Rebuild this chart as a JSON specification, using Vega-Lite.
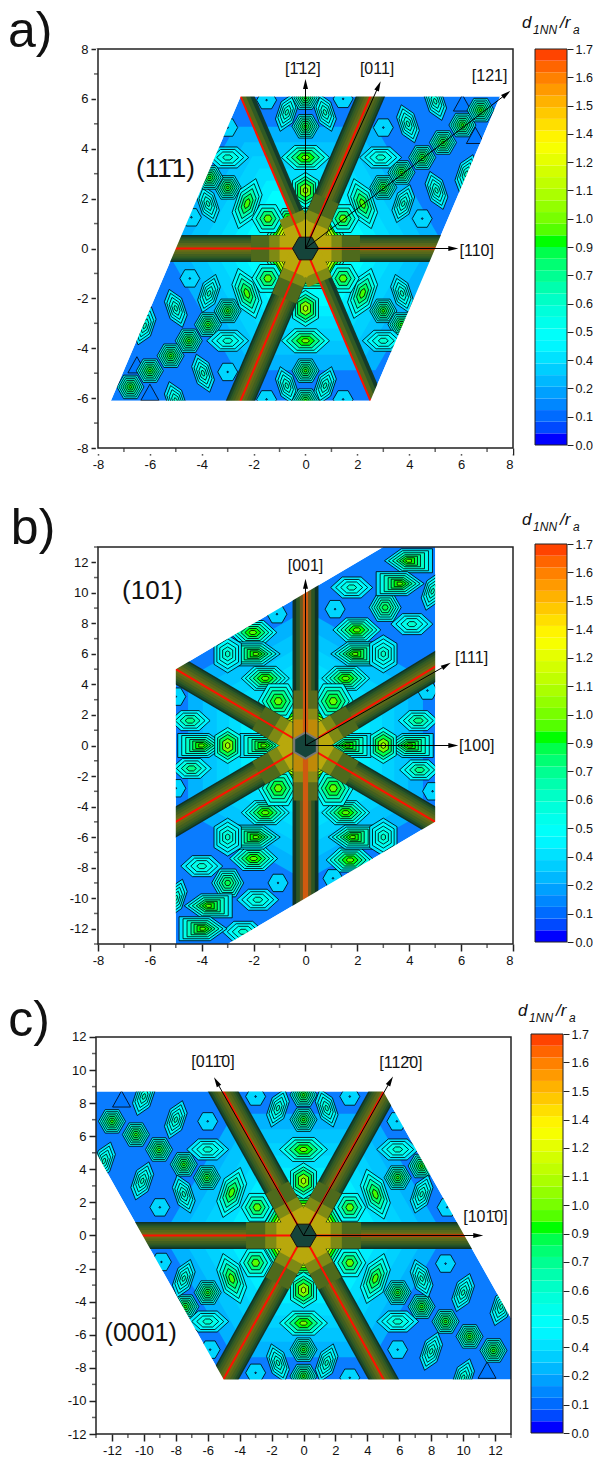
{"$schema":"https://vega.github.io/schema/vega-lite/v6.json","padding":{"left":7,"top":6,"right":0,"bottom":0},"background":"white","bounds":"flush","columns":2,"spacing":{"row":90,"column":18},
"config":{"view":{"stroke":null},"axis":{"grid":false,"domain":false,"tickColor":"#222","tickWidth":1.5,"tickSize":7,"labelFont":"Liberation Sans","labelFontSize":13,"labelColor":"#111","title":null,"zindex":1,"labelPadding":3},"text":{"font":"Liberation Sans","color":"#111"}},
"datasets":{
"profiles":[{"p":"H","v":[0.4,0.5,0.58,0.66,0.74,0.8,0.86],"a":[13.5,11.5,9.5,7.5,5.5,3.5,1.5]},{"p":"H2","v":[0.45,0.6,0.75,0.9],"a":[16,12,8,4]},{"p":"H3","v":[0.45,0.58,0.7,0.82,0.92],"a":[20,16,12,8,4]},{"p":"K","v":[0.38,0.48,0.56,0.64,0.72,0.8],"a":[16,13.5,11,8.5,6,3]},{"p":"L","v":[0.36,0.42,0.48,0.54,0.6],"a":[19,15,11,7,3]},{"p":"LB","v":[0.42,0.52,0.65,0.78,0.88],"a":[25,20,15,10,5]},{"p":"E","v":[0.36,0.42,0.5,0.58],"a":[21,16,11,5]},{"p":"E3","v":[0.4,0.5,0.62,0.72],"a":[20,15,10,5]},{"p":"EB","v":[0.45,0.58,0.72,0.85,0.95],"a":[24,19,14,9,4]},{"p":"V","v":[0.5,0.65,0.8,0.95,1.05],"a":[18,14,11,7,3]},{"p":"O","v":[0.32,0.1],"a":[10,0.8]},{"p":"W","v":[0.4,0.5,0.62,0.75,0.85,0.9],"a":[24,20,16,12,8,4]},{"p":"B","v":[0.35,0.5,0.6,0.7,0.8,0.85,0.9],"a":[24,20,16,12,9,6,3]},{"p":"T","v":[0.12],"a":[9]},{"p":"C","v":[0.55,0.7,0.85,1.0,1.1,1.2,1.27,1.35,1.45,1.55,1.65,1.7],"a":[46,43,40,37,34,31,29,27,25,23,21,19]}],
"ablobs":[{"x":0,"y":0,"s":"hex","p":"C"},{"x":6.05,"y":5.8,"s":"tri","p":"T"},{"x":6.55,"y":4.5,"s":"tri","p":"T"},{"x":-6.5,"y":-4.7,"s":"tri","p":"T"},{"x":-6,"y":-5.8,"s":"tri","p":"T"},{"x":-1.5,"y":5.95,"s":"hex","p":"O"},{"x":-3,"y":4.85,"s":"hex","p":"O"},{"x":-4.4,"y":1.25,"s":"hex","p":"O"},{"x":1.45,"y":6,"s":"hex","p":"O"},{"x":3,"y":4.85,"s":"hex","p":"O"},{"x":4.5,"y":1.2,"s":"hex","p":"O"},{"x":-4.46,"y":-1.2,"s":"hex","p":"O"},{"x":-3,"y":-4.95,"s":"hex","p":"O"},{"x":-1.5,"y":-6.05,"s":"hex","p":"O"},{"x":1.45,"y":-6.05,"s":"hex","p":"O"},{"x":-0.72,"y":5.46,"s":"ne","p":"L"},{"x":3.77,"y":1.8,"s":"ne","p":"L"},{"x":-3.72,"y":-1.8,"s":"ne","p":"L"},{"x":0.75,"y":-5.5,"s":"ne","p":"L"},{"x":6.2,"y":3,"s":"ne","p":"L"},{"x":-6.2,"y":-3.1,"s":"ne","p":"L"},{"x":0.75,"y":5.46,"s":"nw","p":"L"},{"x":3.95,"y":5,"s":"nw","p":"L"},{"x":5,"y":5.9,"s":"nw","p":"L"},{"x":5.05,"y":2.33,"s":"nw","p":"L"},{"x":-3.76,"y":1.8,"s":"nw","p":"L"},{"x":-5,"y":-2.4,"s":"nw","p":"L"},{"x":-3.95,"y":-5,"s":"nw","p":"L"},{"x":-0.72,"y":-5.5,"s":"nw","p":"L"},{"x":3.72,"y":-1.8,"s":"nw","p":"L"},{"x":-5,"y":-6.1,"s":"nw","p":"L"},{"x":-2.25,"y":1.8,"s":"ne","p":"LB"},{"x":2.2,"y":-1.8,"s":"ne","p":"LB"},{"x":2.2,"y":1.8,"s":"nw","p":"LB"},{"x":-2.26,"y":-1.8,"s":"nw","p":"LB"},{"x":-1.45,"y":1.2,"s":"hex","p":"H2"},{"x":1.45,"y":1.2,"s":"hex","p":"H2"},{"x":-1.45,"y":-1.2,"s":"hex","p":"H2"},{"x":1.45,"y":-1.2,"s":"hex","p":"H2"},{"x":-3,"y":2.45,"s":"hex","p":"H"},{"x":-3.7,"y":2.85,"s":"hex","p":"H"},{"x":3,"y":2.45,"s":"hex","p":"H"},{"x":3.7,"y":3.05,"s":"hex","p":"H"},{"x":4.5,"y":3.65,"s":"hex","p":"H"},{"x":5.3,"y":4.25,"s":"hex","p":"H"},{"x":6.05,"y":4.95,"s":"hex","p":"H"},{"x":6.75,"y":5.55,"s":"hex","p":"H"},{"x":-3,"y":-2.5,"s":"hex","p":"H"},{"x":-3.76,"y":-3.05,"s":"hex","p":"H"},{"x":-4.5,"y":-3.7,"s":"hex","p":"H"},{"x":-5.2,"y":-4.3,"s":"hex","p":"H"},{"x":-6,"y":-4.9,"s":"hex","p":"H"},{"x":-6.75,"y":-5.55,"s":"hex","p":"H"},{"x":0,"y":4.9,"s":"hex","p":"H"},{"x":0,"y":-4.9,"s":"hex","p":"H"},{"x":0,"y":6.05,"s":"hex","p":"H"},{"x":0,"y":-6.1,"s":"hex","p":"H"},{"x":3,"y":-2.5,"s":"hex","p":"H"},{"x":3.7,"y":-3.05,"s":"hex","p":"H"},{"x":-3,"y":3.65,"s":"eye","p":"E"},{"x":2.9,"y":3.65,"s":"eye","p":"E"},{"x":-3,"y":-3.7,"s":"eye","p":"E"},{"x":3,"y":-3.7,"s":"eye","p":"E"},{"x":0,"y":3.65,"s":"eye","p":"EB"},{"x":0,"y":-3.7,"s":"eye","p":"EB"},{"x":0,"y":2.33,"s":"vhex","p":"V"},{"x":0,"y":-2.4,"s":"vhex","p":"V"}],
"bblobs":[{"x":0,"y":0,"s":"phex","p":"C"},{"x":3.07,"y":9.04,"s":"hex","p":"K"},{"x":-3,"y":-9,"s":"hex","p":"K"},{"x":1.78,"y":10.35,"s":"eye","p":"E"},{"x":4.1,"y":7.95,"s":"eye","p":"E"},{"x":-4,"y":-7.9,"s":"eye","p":"E"},{"x":-1.84,"y":-10.1,"s":"eye","p":"E"},{"x":-2.4,"y":-12.2,"s":"eye","p":"E"},{"x":1.14,"y":8.93,"s":"hex","p":"O"},{"x":-1.06,"y":-9,"s":"hex","p":"O"},{"x":-1.1,"y":8.6,"s":"hex","p":"O"},{"x":1.06,"y":-8.7,"s":"hex","p":"O"},{"x":-5,"y":3.2,"s":"hex","p":"O"},{"x":4.7,"y":3.6,"s":"hex","p":"O"},{"x":-5,"y":-2.8,"s":"hex","p":"O"},{"x":4.9,"y":-3,"s":"hex","p":"O"},{"x":1.98,"y":7.57,"s":"eye","p":"W"},{"x":-2.03,"y":7.4,"s":"eye","p":"W"},{"x":-2,"y":-7.4,"s":"eye","p":"W"},{"x":1.72,"y":-7.5,"s":"eye","p":"W"},{"x":1.55,"y":4.4,"s":"eye","p":"W"},{"x":-1.55,"y":4.4,"s":"eye","p":"W"},{"x":1.55,"y":-4.4,"s":"eye","p":"W"},{"x":-1.55,"y":-4.4,"s":"eye","p":"W"},{"x":1.9,"y":6,"s":"xob","p":"B"},{"x":-1.9,"y":6,"s":"box","p":"B"},{"x":-1.9,"y":-6,"s":"box","p":"B"},{"x":1.8,"y":-6,"s":"xob","p":"B"},{"x":-4,"y":0,"s":"box","p":"B"},{"x":-1.6,"y":0,"s":"box","p":"B"},{"x":1.6,"y":0,"s":"xob","p":"B"},{"x":4,"y":0,"s":"xob","p":"B"},{"x":3.97,"y":12.1,"s":"xob","p":"B"},{"x":3.65,"y":10.6,"s":"box","p":"B"},{"x":-3.75,"y":-10.5,"s":"xob","p":"B"},{"x":-3.95,"y":-12,"s":"box","p":"B"},{"x":3,"y":6,"s":"vhex","p":"L"},{"x":-3,"y":6,"s":"vhex","p":"L"},{"x":-3,"y":-6,"s":"vhex","p":"L"},{"x":3,"y":-6,"s":"vhex","p":"L"},{"x":3,"y":0,"s":"vhex","p":"V"},{"x":-3,"y":0,"s":"vhex","p":"V"},{"x":-4.45,"y":1.63,"s":"eye","p":"E3"},{"x":4.35,"y":1.63,"s":"eye","p":"E3"},{"x":-4.4,"y":-1.5,"s":"eye","p":"E3"},{"x":4.4,"y":-1.6,"s":"eye","p":"E3"},{"x":1.07,"y":2.9,"s":"hex","p":"H3"},{"x":-1.05,"y":2.9,"s":"hex","p":"H3"},{"x":1.07,"y":-2.8,"s":"hex","p":"H3"},{"x":-1.05,"y":-2.8,"s":"hex","p":"H3"},{"x":4.9,"y":10.1,"s":"ne","p":"L"},{"x":-5,"y":-10,"s":"ne","p":"L"}],
"cblobs":[{"x":0,"y":0,"s":"hex","p":"C"},{"x":-11.4,"y":8.2,"s":"tri","p":"T"},{"x":11.5,"y":-8.2,"s":"tri","p":"T"},{"x":-12,"y":6.9,"s":"hex","p":"H"},{"x":-10.5,"y":6.1,"s":"hex","p":"H"},{"x":-9.05,"y":5.2,"s":"hex","p":"H"},{"x":-7.5,"y":4.3,"s":"hex","p":"H"},{"x":-6.05,"y":3.5,"s":"hex","p":"H"},{"x":0,"y":7,"s":"hex","p":"H"},{"x":0,"y":8.5,"s":"hex","p":"H"},{"x":5.9,"y":3.5,"s":"hex","p":"H"},{"x":7.4,"y":4.2,"s":"hex","p":"H"},{"x":-6,"y":-3.45,"s":"hex","p":"H"},{"x":-7.4,"y":-4.3,"s":"hex","p":"H"},{"x":0,"y":-6.9,"s":"hex","p":"H"},{"x":0,"y":-8.5,"s":"hex","p":"H"},{"x":5.9,"y":-3.45,"s":"hex","p":"H"},{"x":7.4,"y":-4.3,"s":"hex","p":"H"},{"x":8.9,"y":-5.2,"s":"hex","p":"H"},{"x":10.4,"y":-6.1,"s":"hex","p":"H"},{"x":11.9,"y":-6.95,"s":"hex","p":"H"},{"x":-8,"y":7,"s":"ne","p":"L"},{"x":-10.1,"y":3.3,"s":"ne","p":"L"},{"x":-7.5,"y":2.5,"s":"nw","p":"L"},{"x":-10,"y":8.4,"s":"ne","p":"L"},{"x":-12.5,"y":4.5,"s":"ne","p":"L"},{"x":-1.6,"y":7.7,"s":"ne","p":"L"},{"x":1.45,"y":7.7,"s":"nw","p":"L"},{"x":7.4,"y":2.5,"s":"ne","p":"L"},{"x":-7.5,"y":-2.6,"s":"ne","p":"L"},{"x":-1.6,"y":-7.7,"s":"nw","p":"L"},{"x":7.4,"y":-2.6,"s":"nw","p":"L"},{"x":10,"y":-3.45,"s":"ne","p":"L"},{"x":12.4,"y":-4.3,"s":"ne","p":"L"},{"x":8,"y":-7,"s":"ne","p":"L"},{"x":10,"y":-8.6,"s":"ne","p":"L"},{"x":1.45,"y":-7.7,"s":"ne","p":"L"},{"x":-6,"y":6.9,"s":"hex","p":"O"},{"x":-9,"y":1.7,"s":"hex","p":"O"},{"x":-3,"y":8.4,"s":"hex","p":"O"},{"x":2.9,"y":8.4,"s":"hex","p":"O"},{"x":5.85,"y":6.9,"s":"hex","p":"O"},{"x":9,"y":1.7,"s":"hex","p":"O"},{"x":-8.9,"y":-1.6,"s":"hex","p":"O"},{"x":-5.85,"y":-6.9,"s":"hex","p":"O"},{"x":-3,"y":-8.3,"s":"hex","p":"O"},{"x":8.9,"y":-1.7,"s":"hex","p":"O"},{"x":5.9,"y":-6.9,"s":"hex","p":"O"},{"x":2.9,"y":-8.6,"s":"hex","p":"O"},{"x":-6,"y":5.2,"s":"eye","p":"E"},{"x":5.9,"y":5.2,"s":"eye","p":"E"},{"x":-6,"y":-5.2,"s":"eye","p":"E"},{"x":5.9,"y":-5.2,"s":"eye","p":"E"},{"x":0,"y":5.2,"s":"eye","p":"EB"},{"x":0,"y":-5.3,"s":"eye","p":"EB"},{"x":0,"y":3.3,"s":"vhex","p":"V"},{"x":0,"y":-3.3,"s":"vhex","p":"V"},{"x":-4.5,"y":2.6,"s":"ne","p":"LB"},{"x":4.5,"y":2.5,"s":"nw","p":"LB"},{"x":-4.5,"y":-2.6,"s":"nw","p":"LB"},{"x":4.5,"y":-2.6,"s":"ne","p":"LB"},{"x":-2.9,"y":1.7,"s":"hex","p":"H2"},{"x":2.9,"y":1.7,"s":"hex","p":"H2"},{"x":-3,"y":-1.65,"s":"hex","p":"H2"},{"x":2.9,"y":-1.65,"s":"hex","p":"H2"}],
"aarms":[{"x":0,"y":0,"x2":5.6,"y2":0,"lane":["a_edge","a_two","b_mid","b_two","c_in","c_two","g_core"]},{"x":0,"y":0,"x2":-5.6,"y2":0,"lane":["a_edge","a_two","b_mid","b_two","c_in","c_two","g_core"]},{"x":0,"y":0,"x2":2.75,"y2":6.7,"lane":["a_edge","a_two","b_mid","b_two","c_in","c_two","g_core"]},{"x":0,"y":0,"x2":-2.75,"y2":-6.7,"lane":["a_edge","a_two","b_mid","b_two","c_in","c_two","g_core"]},{"x":0.23,"y":0.1,"x2":-2.52,"y2":6.8,"lane":["a_hedge"]},{"x":0.16,"y":0.07,"x2":-2.59,"y2":6.77,"lane":["b_hmid"]},{"x":0.09,"y":0.04,"x2":-2.66,"y2":6.74,"lane":["c_hin"]},{"x":0,"y":0,"x2":-2.75,"y2":6.7,"lane":["g_core"]},{"x":0.23,"y":0.1,"x2":2.98,"y2":-6.6,"lane":["a_hedge"]},{"x":0.16,"y":0.07,"x2":2.91,"y2":-6.63,"lane":["b_hmid"]},{"x":0.09,"y":0.04,"x2":2.84,"y2":-6.66,"lane":["c_hin"]},{"x":0,"y":0,"x2":2.75,"y2":-6.7,"lane":["g_core"]},{"x":0,"y":0,"x2":2.1,"y2":0,"lane":["d_warm0"]},{"x":0,"y":0,"x2":-2.1,"y2":0,"lane":["d_warm0"]},{"x":0,"y":0,"x2":0.82,"y2":2,"lane":["d_warm0"]},{"x":0,"y":0,"x2":-0.82,"y2":-2,"lane":["d_warm0"]},{"x":0,"y":0,"x2":1.4,"y2":0,"lane":["e_warm1"]},{"x":0,"y":0,"x2":-1.4,"y2":0,"lane":["e_warm1"]},{"x":0,"y":0,"x2":0.55,"y2":1.35,"lane":["e_warm1"]},{"x":0,"y":0,"x2":-0.55,"y2":1.35,"lane":["e_warm1"]},{"x":0,"y":0,"x2":0.55,"y2":-1.35,"lane":["e_warm1"]},{"x":0,"y":0,"x2":-0.55,"y2":-1.35,"lane":["e_warm1"]},{"x":0,"y":0,"x2":1,"y2":0,"lane":["f_warm2"]},{"x":0,"y":0,"x2":-1,"y2":0,"lane":["f_warm2"]},{"x":0,"y":0,"x2":0.4,"y2":0.97,"lane":["f_warm2"]},{"x":0,"y":0,"x2":-0.4,"y2":0.97,"lane":["f_warm2"]},{"x":0,"y":0,"x2":0.4,"y2":-0.97,"lane":["f_warm2"]},{"x":0,"y":0,"x2":-0.4,"y2":-0.97,"lane":["f_warm2"]}],
"barms":[{"x":0,"y":0,"x2":6,"y2":6.2,"lane":["a_edge","a_two","b_mid","b_two","c_in","c_two","g_core"]},{"x":0,"y":0,"x2":-6,"y2":6,"lane":["a_edge","a_two","b_mid","b_two","c_in","c_two","g_core"]},{"x":0,"y":0,"x2":6,"y2":-6,"lane":["a_edge","a_two","b_mid","b_two","c_in","c_two","g_core"]},{"x":0,"y":0,"x2":-6,"y2":-6,"lane":["a_edge","a_two","b_mid","b_two","c_in","c_two","g_core"]},{"x":0,"y":0,"x2":1.8,"y2":1.85,"lane":["d_warm0"]},{"x":0,"y":0,"x2":-1.8,"y2":1.8,"lane":["d_warm0"]},{"x":0,"y":0,"x2":1.8,"y2":-1.8,"lane":["d_warm0"]},{"x":0,"y":0,"x2":-1.8,"y2":-1.8,"lane":["d_warm0"]},{"x":0,"y":0,"x2":1.2,"y2":1.25,"lane":["e_warm1"]},{"x":0,"y":0,"x2":-1.2,"y2":1.2,"lane":["e_warm1"]},{"x":0,"y":0,"x2":1.2,"y2":-1.2,"lane":["e_warm1"]},{"x":0,"y":0,"x2":-1.2,"y2":-1.2,"lane":["e_warm1"]},{"x":0,"y":0,"x2":0.85,"y2":0.88,"lane":["f_warm2"]},{"x":0,"y":0,"x2":-0.85,"y2":0.85,"lane":["f_warm2"]},{"x":0,"y":0,"x2":0.85,"y2":-0.85,"lane":["f_warm2"]},{"x":0,"y":0,"x2":-0.85,"y2":-0.85,"lane":["f_warm2"]}],
"bvert":[{"l":"a","x":-0.5,"x2":0.5,"y":-11,"y2":11},{"l":"b","x":-0.36,"x2":0.36,"y":-11,"y2":11},{"l":"c","x":-0.22,"x2":0.22,"y":-11,"y2":11},{"l":"w0","x":-0.46,"x2":0.46,"y":-3.6,"y2":3.6},{"l":"w1","x":-0.46,"x2":0.46,"y":-2.4,"y2":2.4},{"l":"w2","x":-0.46,"x2":0.46,"y":-1.7,"y2":1.7},{"l":"v","x":-0.1,"x2":0.1,"y":-11,"y2":11}],
"carms":[{"x":0,"y":0,"x2":11.5,"y2":0,"lane":["a_edge","a_two","b_mid","b_two","c_in","c_two","g_core"]},{"x":0,"y":0,"x2":-11.5,"y2":0,"lane":["a_edge","a_two","b_mid","b_two","c_in","c_two","g_core"]},{"x":0,"y":0,"x2":5.6,"y2":9.7,"lane":["a_edge","a_two","b_mid","b_two","c_in","c_two","g_core"]},{"x":0,"y":0,"x2":-5.6,"y2":9.7,"lane":["a_edge","a_two","b_mid","b_two","c_in","c_two","g_core"]},{"x":0,"y":0,"x2":5.6,"y2":-9.7,"lane":["a_edge","a_two","b_mid","b_two","c_in","c_two","g_core"]},{"x":0,"y":0,"x2":-5.6,"y2":-9.7,"lane":["a_edge","a_two","b_mid","b_two","c_in","c_two","g_core"]},{"x":0,"y":0,"x2":3.6,"y2":0,"lane":["d_warm0"]},{"x":0,"y":0,"x2":-3.6,"y2":0,"lane":["d_warm0"]},{"x":0,"y":0,"x2":1.65,"y2":2.9,"lane":["d_warm0"]},{"x":0,"y":0,"x2":-1.65,"y2":2.9,"lane":["d_warm0"]},{"x":0,"y":0,"x2":1.65,"y2":-2.9,"lane":["d_warm0"]},{"x":0,"y":0,"x2":-1.65,"y2":-2.9,"lane":["d_warm0"]},{"x":0,"y":0,"x2":2.4,"y2":0,"lane":["e_warm1"]},{"x":0,"y":0,"x2":-2.4,"y2":0,"lane":["e_warm1"]},{"x":0,"y":0,"x2":1.1,"y2":1.95,"lane":["e_warm1"]},{"x":0,"y":0,"x2":-1.1,"y2":1.95,"lane":["e_warm1"]},{"x":0,"y":0,"x2":1.1,"y2":-1.95,"lane":["e_warm1"]},{"x":0,"y":0,"x2":-1.1,"y2":-1.95,"lane":["e_warm1"]},{"x":0,"y":0,"x2":1.7,"y2":0,"lane":["f_warm2"]},{"x":0,"y":0,"x2":-1.7,"y2":0,"lane":["f_warm2"]},{"x":0,"y":0,"x2":0.78,"y2":1.38,"lane":["f_warm2"]},{"x":0,"y":0,"x2":-0.78,"y2":1.38,"lane":["f_warm2"]},{"x":0,"y":0,"x2":0.78,"y2":-1.38,"lane":["f_warm2"]},{"x":0,"y":0,"x2":-0.78,"y2":-1.38,"lane":["f_warm2"]}],
"halo":[{"x":0,"y":0,"s":"hex","v":0.24,"a":140},{"x":0,"y":0,"s":"hex","v":0.28,"a":122},{"x":0,"y":0,"s":"hex","v":0.31,"a":106},{"x":0,"y":0,"s":"hex","v":0.34,"a":92},{"x":0,"y":0,"s":"hex","v":0.38,"a":78},{"x":0,"y":0,"s":"hex","v":0.42,"a":66}],
"phalo":[{"x":0,"y":0,"s":"phex","v":0.24,"a":135},{"x":0,"y":0,"s":"phex","v":0.28,"a":118},{"x":0,"y":0,"s":"phex","v":0.31,"a":102},{"x":0,"y":0,"s":"phex","v":0.34,"a":88},{"x":0,"y":0,"s":"phex","v":0.38,"a":74},{"x":0,"y":0,"s":"phex","v":0.42,"a":62}],
"cbar":[{"v":0,"h":0.05},{"v":0.05,"h":0.1},{"v":0.1,"h":0.15},{"v":0.15,"h":0.2},{"v":0.2,"h":0.25},{"v":0.25,"h":0.3},{"v":0.3,"h":0.35},{"v":0.35,"h":0.4},{"v":0.4,"h":0.45},{"v":0.45,"h":0.5},{"v":0.5,"h":0.55},{"v":0.55,"h":0.6},{"v":0.6,"h":0.65},{"v":0.65,"h":0.7},{"v":0.7,"h":0.75},{"v":0.75,"h":0.8},{"v":0.8,"h":0.85},{"v":0.85,"h":0.9},{"v":0.9,"h":0.95},{"v":0.95,"h":1},{"v":1,"h":1.05},{"v":1.05,"h":1.1},{"v":1.1,"h":1.15},{"v":1.15,"h":1.2},{"v":1.2,"h":1.25},{"v":1.25,"h":1.3},{"v":1.3,"h":1.35},{"v":1.35,"h":1.4},{"v":1.4,"h":1.45},{"v":1.45,"h":1.5},{"v":1.5,"h":1.55},{"v":1.55,"h":1.6},{"v":1.6,"h":1.65},{"v":1.65,"h":1.7}]
},
"concat":[
{"width":417,"height":405,"layer":[
{"data":{"values":[{"x":-7.5,"y":-6.1,"y2":-6.1},{"x":-2.5,"y":-6.1,"y2":6.1},{"x":2.5,"y":-6.1,"y2":6.1},{"x":7.5,"y":6.1,"y2":6.1}]},"mark":{"type":"area","orient":"vertical","color":"#0a7cff"},"encoding":{"x":{"field":"x","type":"quantitative","scale":{"domain":[-8.077,8]},"axis":{"title":null,"labelOverlap":false,"tickCount":50,"values":[-8,-6,-4,-2,0,2,4,6,8],"labelExpr":"''+datum.value","offset":-6}},"y":{"field":"y","type":"quantitative","scale":{"domain":[-8.24,8]},"axis":{"title":null,"labelOverlap":false,"tickCount":50,"values":[-8,-6,-4,-2,0,2,4,6,8],"labelExpr":"''+datum.value","offset":-2}},"y2":{"field":"y2"}}},
{"data":{"name":"halo"},"mark":{"type":"point","filled":true,"opacity":1,"clip":true},"encoding":{"x":{"field":"x","type":"quantitative","scale":{"domain":[-8.077,8]}},"y":{"field":"y","type":"quantitative","scale":{"domain":[-8.24,8]}},"fill":{"field":"v","type":"quantitative","legend":null,"scale":{"domain":[0,0.425,0.85,1.275,1.7],"range":["#0000ff","#00ffff","#00ff00","#ffff00","#ff0000"]}},"size":{"field":"a","type":"quantitative","legend":null,"scale":{"type":"pow","exponent":2,"domain":[0,30],"range":[0,3600]}},"shape":{"field":"s","type":"nominal","legend":null,"scale":{"domain":["hex","phex","eye","ne","nw","vhex","box","xob","tri"],"range":["M-1,0L-.5,-.87L.5,-.87L1,0L.5,.87L-.5,.87Z","M0,-1L.87,-.5L.87,.5L0,1L-.87,.5L-.87,-.5Z","M-1,0L-.45,-.5L.45,-.5L1,0L.45,.5L-.45,.5Z","M.35,-1L.6,-.35L.3,.55L-.35,1L-.6,.35L-.3,-.55Z","M-.35,-1L-.6,-.35L-.3,.55L.35,1L.6,.35L.3,-.55Z","M-.72,-.55L0,-1L.72,-.55L.72,.55L0,1L-.72,.55Z","M-1,-.5L.3,-.5L1,0L.3,.5L-1,.5Z","M1,-.5L-.3,-.5L-1,0L-.3,.5L1,.5Z","M0,-1L1,.8L-1,.8Z"]}}}},
{"data":{"name":"ablobs"},"transform":[{"lookup":"p","from":{"data":{"name":"profiles"},"key":"p","fields":["v","a"]}},{"flatten":["v","a"]}],"mark":{"type":"point","filled":true,"opacity":1,"stroke":"black","strokeWidth":0.8,"clip":true},"encoding":{"x":{"field":"x","type":"quantitative","scale":{"domain":[-8.077,8]}},"y":{"field":"y","type":"quantitative","scale":{"domain":[-8.24,8]}},"fill":{"field":"v","type":"quantitative","legend":null,"scale":{"domain":[0,0.425,0.85,1.275,1.7],"range":["#0000ff","#00ffff","#00ff00","#ffff00","#ff0000"]}},"size":{"field":"a","type":"quantitative","legend":null,"scale":{"type":"pow","exponent":2,"domain":[0,30],"range":[0,3600]}},"shape":{"field":"s","type":"nominal","legend":null,"scale":{"domain":["hex","phex","eye","ne","nw","vhex","box","xob","tri"],"range":["M-1,0L-.5,-.87L.5,-.87L1,0L.5,.87L-.5,.87Z","M0,-1L.87,-.5L.87,.5L0,1L-.87,.5L-.87,-.5Z","M-1,0L-.45,-.5L.45,-.5L1,0L.45,.5L-.45,.5Z","M.35,-1L.6,-.35L.3,.55L-.35,1L-.6,.35L-.3,-.55Z","M-.35,-1L-.6,-.35L-.3,.55L.35,1L.6,.35L.3,-.55Z","M-.72,-.55L0,-1L.72,-.55L.72,.55L0,1L-.72,.55Z","M-1,-.5L.3,-.5L1,0L.3,.5L-1,.5Z","M1,-.5L-.3,-.5L-1,0L-.3,.5L1,.5Z","M0,-1L1,.8L-1,.8Z"]}}}},
{"data":{"name":"aarms"},"transform":[{"flatten":["lane"]}],"mark":{"type":"rule","clip":true},"encoding":{"x":{"field":"x","type":"quantitative","scale":{"domain":[-8.077,8]}},"y":{"field":"y","type":"quantitative","scale":{"domain":[-8.24,8]}},"x2":{"field":"x2"},"y2":{"field":"y2"},"order":{"field":"lane"},"stroke":{"field":"lane","type":"nominal","legend":null,"scale":{"domain":["a_edge","a_two","b_mid","b_two","c_in","c_two","a_hedge","b_hmid","c_hin","d_warm0","e_warm1","f_warm2","g_core"],"range":["#0f3326","#1d4a28","#2f5a24","#435f1f","#56681a","#6e6a14","#123b2a","#2f5a24","#56681a","#4e6a1c","#7e8a14","#b8a80c","#ff1000"]}},"strokeWidth":{"field":"lane","type":"nominal","legend":null,"scale":{"type":"ordinal","domain":["a_edge","a_two","b_mid","b_two","c_in","c_two","a_hedge","b_hmid","c_hin","d_warm0","e_warm1","f_warm2","g_core"],"range":[27,24,20,16,11,6,13,9,5,26,26,26,2]}}}},
{"data":{"values":[{"m":"u","x":-8.08,"y":-8.25,"y2":8},{"m":"u","x":-7.5,"y":-6.1,"y2":8},{"m":"u","x":-2.5,"y":6.1,"y2":8},{"m":"u","x":8,"y":6.1,"y2":8},{"m":"l","x":-8.08,"y":-8.25,"y2":-6.1},{"m":"l","x":2.5,"y":-8.25,"y2":-6.1},{"m":"l","x":7.5,"y":-8.25,"y2":6.1},{"m":"l","x":8,"y":-8.25,"y2":8}]},"mark":{"type":"area","orient":"vertical","color":"white"},"encoding":{"detail":{"field":"m"},"x":{"field":"x","type":"quantitative","scale":{"domain":[-8.077,8]}},"y":{"field":"y","type":"quantitative","scale":{"domain":[-8.24,8]}},"y2":{"field":"y2"}}},
{"data":{"values":[{"x":0,"y":0}]},"mark":{"type":"point","filled":true,"opacity":1,"fill":"#15443a","stroke":"#111","strokeWidth":1,"size":676,"shape":"M-1,0L-.5,-.87L.5,-.87L1,0L.5,.87L-.5,.87Z"},"encoding":{"x":{"field":"x","type":"quantitative","scale":{"domain":[-8.077,8]}},"y":{"field":"y","type":"quantitative","scale":{"domain":[-8.24,8]}}}},
{"data":{"values":[{"x":0,"y":0,"x2":0,"y2":6.6},{"x":0,"y":0,"x2":2.82,"y2":6.52},{"x":0,"y":0,"x2":7.75,"y2":6.2},{"x":0,"y":0,"x2":5.7,"y2":0}]},"mark":{"type":"rule","color":"black","strokeWidth":1},"encoding":{"x":{"field":"x","type":"quantitative","scale":{"domain":[-8.077,8]}},"y":{"field":"y","type":"quantitative","scale":{"domain":[-8.24,8]}},"x2":{"field":"x2"},"y2":{"field":"y2"}}},
{"data":{"values":[{"x":0,"y":6.6,"r":0},{"x":2.82,"y":6.52,"r":24},{"x":7.75,"y":6.2,"r":52},{"x":5.7,"y":0,"r":90}]},"mark":{"type":"point","filled":true,"opacity":1,"color":"black","size":100,"shape":"M0,-1L.5,1L-.5,1Z"},"encoding":{"x":{"field":"x","type":"quantitative","scale":{"domain":[-8.077,8]}},"y":{"field":"y","type":"quantitative","scale":{"domain":[-8.24,8]}},"angle":{"field":"r","type":"quantitative","scale":{"domain":[0,360],"range":[0,360]}}}},
{"data":{"values":[{"t":"[1̄12]","x":-0.1,"y":7.2},{"t":"[011]","x":2.76,"y":7.2},{"t":"[121]","x":7.1,"y":6.9},{"t":"[110]","x":6.6,"y":-0.08}]},"mark":{"type":"text","fontSize":16},"encoding":{"text":{"field":"t"},"x":{"field":"x","type":"quantitative","scale":{"domain":[-8.077,8]}},"y":{"field":"y","type":"quantitative","scale":{"domain":[-8.24,8]}}}},
{"data":{"values":[{"t":"(11̄1)","x":-5.4,"y":3.2}]},"mark":{"type":"text","fontSize":26},"encoding":{"text":{"field":"t"},"x":{"field":"x","type":"quantitative","scale":{"domain":[-8.077,8]}},"y":{"field":"y","type":"quantitative","scale":{"domain":[-8.24,8]}}}},
{"data":{"values":[{"t":"a)","x":-11.47,"y":8.1}]},"mark":{"type":"text","fontSize":50,"align":"left","baseline":"alphabetic"},"encoding":{"text":{"field":"t"},"x":{"field":"x","type":"quantitative","scale":{"domain":[-8.077,8]}},"y":{"field":"y","type":"quantitative","scale":{"domain":[-8.24,8]}}}},
{"data":{"values":[-7,-5,-3,-1,1,3,5,7]},"mark":{"type":"tick","orient":"vertical","size":4,"thickness":1.5,"yOffset":2,"color":"#222"},"encoding":{"x":{"field":"data","type":"quantitative","scale":{"domain":[-8.077,8]}},"y":{"datum":-8,"type":"quantitative","scale":{"domain":[-8.24,8]}}}},
{"data":{"values":[-7,-5,-3,-1,1,3,5,7]},"mark":{"type":"tick","orient":"horizontal","size":4,"thickness":1.5,"xOffset":-2,"color":"#222"},"encoding":{"y":{"field":"data","type":"quantitative","scale":{"domain":[-8.24,8]}},"x":{"datum":-8,"type":"quantitative","scale":{"domain":[-8.077,8]}}}},
{"data":{"values":[{"a":1}]},"mark":{"type":"rect","fillOpacity":0,"stroke":"#222","strokeWidth":1.5},"encoding":{"x":{"datum":-8,"type":"quantitative","scale":{"domain":[-8.077,8]}},"x2":{"datum":8},"y":{"datum":-8,"type":"quantitative","scale":{"domain":[-8.24,8]}},"y2":{"datum":8}}}
]},
{"width":36,"height":396,"layer":[
{"data":{"name":"cbar"},"mark":{"type":"rect"},"encoding":{"x":{"datum":0,"type":"quantitative","scale":{"domain":[-0.125,1]},"axis":null},"x2":{"datum":1},"y":{"field":"v","type":"quantitative","scale":{"domain":[0,1.7]},"axis":{"title":null,"labelOverlap":false,"tickCount":50,"orient":"right","values":[0,0.1214,0.2429,0.3643,0.4857,0.6071,0.7286,0.85,0.9714,1.0929,1.2143,1.3357,1.4571,1.5786,1.7],"labelExpr":"['0.0','0.1','0.2','0.4','0.5','0.6','0.7','0.9','1.0','1.1','1.2','1.4','1.5','1.6','1.7'][round(datum.value/1.7*14)]","tickSize":6,"labelPadding":2,"labelFontSize":12.5,"tickWidth":1}},"y2":{"field":"h"},"fill":{"field":"v","type":"quantitative","legend":null,"scale":{"domain":[0,0.425,0.85,1.275,1.7],"range":["#0000ff","#00ffff","#00ff00","#ffff00","#ff0000"]}}}},
{"data":{"values":[{"a":1}]},"mark":{"type":"rect","fillOpacity":0,"stroke":"#222","strokeWidth":1},"encoding":{"x":{"datum":0,"type":"quantitative","scale":{"domain":[-0.125,1]},"axis":null},"x2":{"datum":1},"y":{"datum":0,"type":"quantitative","scale":{"domain":[0,1.7]}},"y2":{"datum":1.7}}},
{"data":{"values":[{"t":"d","x":-0.41,"y":1.79},{"t":"/r","x":0.78,"y":1.79}]},"mark":{"type":"text","fontSize":17,"fontStyle":"italic","align":"left","baseline":"alphabetic"},"encoding":{"text":{"field":"t"},"x":{"field":"x","type":"quantitative","scale":{"domain":[-0.125,1]},"axis":null},"y":{"field":"y","type":"quantitative","scale":{"domain":[0,1.7]}}}},
{"data":{"values":[{"t":"1NN","x":-0.06,"y":1.764},{"t":"a","x":1.19,"y":1.764}]},"mark":{"type":"text","fontSize":12,"fontStyle":"italic","align":"left","baseline":"alphabetic"},"encoding":{"text":{"field":"t"},"x":{"field":"x","type":"quantitative","scale":{"domain":[-0.125,1]},"axis":null},"y":{"field":"y","type":"quantitative","scale":{"domain":[0,1.7]}}}}
]},
{"width":417,"height":400,"layer":[
{"data":{"values":[{"x":-5,"y":-13,"y2":5},{"x":-3,"y":-13,"y2":7},{"x":3,"y":-7,"y2":13},{"x":5,"y":-5,"y2":13}]},"mark":{"type":"area","orient":"vertical","color":"#0a7cff"},"encoding":{"x":{"field":"x","type":"quantitative","scale":{"domain":[-8.077,8]},"axis":{"title":null,"labelOverlap":false,"tickCount":50,"values":[-8,-6,-4,-2,0,2,4,6,8],"labelExpr":"''+datum.value"}},"y":{"field":"y","type":"quantitative","scale":{"domain":[-13,13.197]},"axis":{"title":null,"labelOverlap":false,"tickCount":50,"values":[-12,-10,-8,-6,-4,-2,0,2,4,6,8,10,12],"labelExpr":"''+datum.value","offset":-2}},"y2":{"field":"y2"}}},
{"data":{"name":"phalo"},"mark":{"type":"point","filled":true,"opacity":1,"clip":true},"encoding":{"x":{"field":"x","type":"quantitative","scale":{"domain":[-8.077,8]}},"y":{"field":"y","type":"quantitative","scale":{"domain":[-13,13.197]}},"fill":{"field":"v","type":"quantitative","legend":null,"scale":{"domain":[0,0.425,0.85,1.275,1.7],"range":["#0000ff","#00ffff","#00ff00","#ffff00","#ff0000"]}},"size":{"field":"a","type":"quantitative","legend":null,"scale":{"type":"pow","exponent":2,"domain":[0,30],"range":[0,3600]}},"shape":{"field":"s","type":"nominal","legend":null,"scale":{"domain":["hex","phex","eye","ne","nw","vhex","box","xob","tri"],"range":["M-1,0L-.5,-.87L.5,-.87L1,0L.5,.87L-.5,.87Z","M0,-1L.87,-.5L.87,.5L0,1L-.87,.5L-.87,-.5Z","M-1,0L-.45,-.5L.45,-.5L1,0L.45,.5L-.45,.5Z","M.35,-1L.6,-.35L.3,.55L-.35,1L-.6,.35L-.3,-.55Z","M-.35,-1L-.6,-.35L-.3,.55L.35,1L.6,.35L.3,-.55Z","M-.72,-.55L0,-1L.72,-.55L.72,.55L0,1L-.72,.55Z","M-1,-.5L.3,-.5L1,0L.3,.5L-1,.5Z","M1,-.5L-.3,-.5L-1,0L-.3,.5L1,.5Z","M0,-1L1,.8L-1,.8Z"]}}}},
{"data":{"name":"bblobs"},"transform":[{"lookup":"p","from":{"data":{"name":"profiles"},"key":"p","fields":["v","a"]}},{"flatten":["v","a"]}],"mark":{"type":"point","filled":true,"opacity":1,"stroke":"black","strokeWidth":0.8,"clip":true},"encoding":{"x":{"field":"x","type":"quantitative","scale":{"domain":[-8.077,8]}},"y":{"field":"y","type":"quantitative","scale":{"domain":[-13,13.197]}},"fill":{"field":"v","type":"quantitative","legend":null,"scale":{"domain":[0,0.425,0.85,1.275,1.7],"range":["#0000ff","#00ffff","#00ff00","#ffff00","#ff0000"]}},"size":{"field":"a","type":"quantitative","legend":null,"scale":{"type":"pow","exponent":2,"domain":[0,30],"range":[0,3600]}},"shape":{"field":"s","type":"nominal","legend":null,"scale":{"domain":["hex","phex","eye","ne","nw","vhex","box","xob","tri"],"range":["M-1,0L-.5,-.87L.5,-.87L1,0L.5,.87L-.5,.87Z","M0,-1L.87,-.5L.87,.5L0,1L-.87,.5L-.87,-.5Z","M-1,0L-.45,-.5L.45,-.5L1,0L.45,.5L-.45,.5Z","M.35,-1L.6,-.35L.3,.55L-.35,1L-.6,.35L-.3,-.55Z","M-.35,-1L-.6,-.35L-.3,.55L.35,1L.6,.35L.3,-.55Z","M-.72,-.55L0,-1L.72,-.55L.72,.55L0,1L-.72,.55Z","M-1,-.5L.3,-.5L1,0L.3,.5L-1,.5Z","M1,-.5L-.3,-.5L-1,0L-.3,.5L1,.5Z","M0,-1L1,.8L-1,.8Z"]}}}},
{"data":{"name":"barms"},"transform":[{"flatten":["lane"]}],"mark":{"type":"rule","clip":true},"encoding":{"x":{"field":"x","type":"quantitative","scale":{"domain":[-8.077,8]}},"y":{"field":"y","type":"quantitative","scale":{"domain":[-13,13.197]}},"x2":{"field":"x2"},"y2":{"field":"y2"},"order":{"field":"lane"},"stroke":{"field":"lane","type":"nominal","legend":null,"scale":{"domain":["a_edge","a_two","b_mid","b_two","c_in","c_two","d_warm0","e_warm1","f_warm2","g_core"],"range":["#0f3326","#1d4a28","#2c5524","#44541f","#665a20","#7a5a20","#5a6a1c","#8a8a14","#c08a08","#8a8a8a"]}},"strokeWidth":{"field":"lane","type":"nominal","legend":null,"scale":{"type":"ordinal","domain":["a_edge","a_two","b_mid","b_two","c_in","c_two","d_warm0","e_warm1","f_warm2","g_core"],"range":[26,23,19,15,10,6,24,24,24,2]}}}},
{"data":{"name":"bvert"},"mark":{"type":"rect","clip":true},"encoding":{"x":{"field":"x","type":"quantitative","scale":{"domain":[-8.077,8]}},"x2":{"field":"x2"},"y":{"field":"y","type":"quantitative","scale":{"domain":[-13,13.197]}},"y2":{"field":"y2"},"color":{"field":"l","type":"nominal","legend":null,"scale":{"domain":["a","b","c","w0","w1","w2","v"],"range":["#0f3326","#2c5524","#665a20","#5a6a1c","#8a8a14","#c08a08","#d05a10"]}}}},
{"data":{"values":[{"m":"u","x":-8.08,"y":-13,"y2":13.2},{"m":"u","x":-5.001,"y":-13,"y2":13.2},{"m":"u","x":-5,"y":5,"y2":13.2},{"m":"u","x":3,"y":13,"y2":13.2},{"m":"u","x":8,"y":13,"y2":13.2},{"m":"l","x":-3,"y":-13,"y2":-13},{"m":"l","x":5,"y":-13,"y2":-5},{"m":"l","x":5.001,"y":-13,"y2":13.2},{"m":"l","x":8,"y":-13,"y2":13.2}]},"mark":{"type":"area","orient":"vertical","color":"white"},"encoding":{"detail":{"field":"m"},"x":{"field":"x","type":"quantitative","scale":{"domain":[-8.077,8]}},"y":{"field":"y","type":"quantitative","scale":{"domain":[-13,13.197]}},"y2":{"field":"y2"}}},
{"data":{"values":[{"x":0,"y":0}]},"mark":{"type":"point","filled":true,"opacity":1,"fill":"#15443a","stroke":"#777","strokeWidth":2,"size":676,"shape":"M0,-1L.87,-.5L.87,.5L0,1L-.87,.5L-.87,-.5Z"},"encoding":{"x":{"field":"x","type":"quantitative","scale":{"domain":[-8.077,8]}},"y":{"field":"y","type":"quantitative","scale":{"domain":[-13,13.197]}}}},
{"data":{"values":[{"x":0,"y":0,"x2":0,"y2":10.6},{"x":0,"y":0,"x2":5.43,"y2":5.25},{"x":0,"y":0,"x2":5.7,"y2":0}]},"mark":{"type":"rule","color":"black","strokeWidth":1},"encoding":{"x":{"field":"x","type":"quantitative","scale":{"domain":[-8.077,8]}},"y":{"field":"y","type":"quantitative","scale":{"domain":[-13,13.197]}},"x2":{"field":"x2"},"y2":{"field":"y2"}}},
{"data":{"values":[{"x":0,"y":10.6,"r":0},{"x":5.43,"y":5.25,"r":60},{"x":5.7,"y":0,"r":90}]},"mark":{"type":"point","filled":true,"opacity":1,"color":"black","size":100,"shape":"M0,-1L.5,1L-.5,1Z"},"encoding":{"x":{"field":"x","type":"quantitative","scale":{"domain":[-8.077,8]}},"y":{"field":"y","type":"quantitative","scale":{"domain":[-13,13.197]}},"angle":{"field":"r","type":"quantitative","scale":{"domain":[0,360],"range":[0,360]}}}},
{"data":{"values":[{"t":"[001]","x":0,"y":11.75},{"t":"[111]","x":6.4,"y":5.75},{"t":"[100]","x":6.6,"y":0}]},"mark":{"type":"text","fontSize":16},"encoding":{"text":{"field":"t"},"x":{"field":"x","type":"quantitative","scale":{"domain":[-8.077,8]}},"y":{"field":"y","type":"quantitative","scale":{"domain":[-13,13.197]}}}},
{"data":{"values":[{"t":"(101)","x":-5.9,"y":10.1}]},"mark":{"type":"text","fontSize":26},"encoding":{"text":{"field":"t"},"x":{"field":"x","type":"quantitative","scale":{"domain":[-8.077,8]}},"y":{"field":"y","type":"quantitative","scale":{"domain":[-13,13.197]}}}},
{"data":{"values":[{"t":"b)","x":-11.36,"y":13.2}]},"mark":{"type":"text","fontSize":50,"align":"left","baseline":"alphabetic"},"encoding":{"text":{"field":"t"},"x":{"field":"x","type":"quantitative","scale":{"domain":[-8.077,8]}},"y":{"field":"y","type":"quantitative","scale":{"domain":[-13,13.197]}}}},
{"data":{"values":[-7,-5,-3,-1,1,3,5,7]},"mark":{"type":"tick","orient":"vertical","size":4,"thickness":1.5,"yOffset":2,"color":"#222"},"encoding":{"x":{"field":"data","type":"quantitative","scale":{"domain":[-8.077,8]}},"y":{"datum":-13,"type":"quantitative","scale":{"domain":[-13,13.197]}}}},
{"data":{"values":[-13,-11,-9,-7,-5,-3,-1,1,3,5,7,9,11,13]},"mark":{"type":"tick","orient":"horizontal","size":4,"thickness":1.5,"xOffset":-2,"color":"#222"},"encoding":{"y":{"field":"data","type":"quantitative","scale":{"domain":[-13,13.197]}},"x":{"datum":-8,"type":"quantitative","scale":{"domain":[-8.077,8]}}}},
{"data":{"values":[{"a":1}]},"mark":{"type":"rect","fillOpacity":0,"stroke":"#222","strokeWidth":1.5},"encoding":{"x":{"datum":-8,"type":"quantitative","scale":{"domain":[-8.077,8]}},"x2":{"datum":8},"y":{"datum":-13,"type":"quantitative","scale":{"domain":[-13,13.197]}},"y2":{"datum":13}}}
]},
{"width":36,"height":398,"layer":[
{"data":{"name":"cbar"},"mark":{"type":"rect"},"encoding":{"x":{"datum":0,"type":"quantitative","scale":{"domain":[-0.125,1]},"axis":null},"x2":{"datum":1},"y":{"field":"v","type":"quantitative","scale":{"domain":[0,1.7]},"axis":{"title":null,"labelOverlap":false,"tickCount":50,"orient":"right","values":[0,0.1214,0.2429,0.3643,0.4857,0.6071,0.7286,0.85,0.9714,1.0929,1.2143,1.3357,1.4571,1.5786,1.7],"labelExpr":"['0.0','0.1','0.2','0.4','0.5','0.6','0.7','0.9','1.0','1.1','1.2','1.4','1.5','1.6','1.7'][round(datum.value/1.7*14)]","tickSize":6,"labelPadding":2,"labelFontSize":12.5,"tickWidth":1}},"y2":{"field":"h"},"fill":{"field":"v","type":"quantitative","legend":null,"scale":{"domain":[0,0.425,0.85,1.275,1.7],"range":["#0000ff","#00ffff","#00ff00","#ffff00","#ff0000"]}}}},
{"data":{"values":[{"a":1}]},"mark":{"type":"rect","fillOpacity":0,"stroke":"#222","strokeWidth":1},"encoding":{"x":{"datum":0,"type":"quantitative","scale":{"domain":[-0.125,1]},"axis":null},"x2":{"datum":1},"y":{"datum":0,"type":"quantitative","scale":{"domain":[0,1.7]}},"y2":{"datum":1.7}}},
{"data":{"values":[{"t":"d","x":-0.41,"y":1.78},{"t":"/r","x":0.78,"y":1.78}]},"mark":{"type":"text","fontSize":17,"fontStyle":"italic","align":"left","baseline":"alphabetic"},"encoding":{"text":{"field":"t"},"x":{"field":"x","type":"quantitative","scale":{"domain":[-0.125,1]},"axis":null},"y":{"field":"y","type":"quantitative","scale":{"domain":[0,1.7]}}}},
{"data":{"values":[{"t":"1NN","x":-0.06,"y":1.755},{"t":"a","x":1.19,"y":1.755}]},"mark":{"type":"text","fontSize":12,"fontStyle":"italic","align":"left","baseline":"alphabetic"},"encoding":{"text":{"field":"t"},"x":{"field":"x","type":"quantitative","scale":{"domain":[-0.125,1]},"axis":null},"y":{"field":"y","type":"quantitative","scale":{"domain":[0,1.7]}}}}
]},
{"width":415,"height":400,"layer":[
{"data":{"values":[{"x":-13,"y":5,"y2":8.7},{"x":-5,"y":-8.7,"y2":8.7},{"x":5,"y":-8.7,"y2":8.7},{"x":13,"y":-8.7,"y2":-5}]},"mark":{"type":"area","orient":"vertical","color":"#0a7cff"},"encoding":{"x":{"field":"x","type":"quantitative","scale":{"domain":[-13,13]},"axis":{"title":null,"labelOverlap":false,"tickCount":50,"values":[-12,-10,-8,-6,-4,-2,0,2,4,6,8,10,12],"labelExpr":"''+datum.value"}},"y":{"field":"y","type":"quantitative","scale":{"domain":[-12,12.18]},"axis":{"title":null,"labelOverlap":false,"tickCount":50,"values":[-12,-10,-8,-6,-4,-2,0,2,4,6,8,10,12],"labelExpr":"''+datum.value"}},"y2":{"field":"y2"}}},
{"data":{"name":"halo"},"mark":{"type":"point","filled":true,"opacity":1,"clip":true},"encoding":{"x":{"field":"x","type":"quantitative","scale":{"domain":[-13,13]}},"y":{"field":"y","type":"quantitative","scale":{"domain":[-12,12.18]}},"fill":{"field":"v","type":"quantitative","legend":null,"scale":{"domain":[0,0.425,0.85,1.275,1.7],"range":["#0000ff","#00ffff","#00ff00","#ffff00","#ff0000"]}},"size":{"field":"a","type":"quantitative","legend":null,"scale":{"type":"pow","exponent":2,"domain":[0,30],"range":[0,3600]}},"shape":{"field":"s","type":"nominal","legend":null,"scale":{"domain":["hex","phex","eye","ne","nw","vhex","box","xob","tri"],"range":["M-1,0L-.5,-.87L.5,-.87L1,0L.5,.87L-.5,.87Z","M0,-1L.87,-.5L.87,.5L0,1L-.87,.5L-.87,-.5Z","M-1,0L-.45,-.5L.45,-.5L1,0L.45,.5L-.45,.5Z","M.35,-1L.6,-.35L.3,.55L-.35,1L-.6,.35L-.3,-.55Z","M-.35,-1L-.6,-.35L-.3,.55L.35,1L.6,.35L.3,-.55Z","M-.72,-.55L0,-1L.72,-.55L.72,.55L0,1L-.72,.55Z","M-1,-.5L.3,-.5L1,0L.3,.5L-1,.5Z","M1,-.5L-.3,-.5L-1,0L-.3,.5L1,.5Z","M0,-1L1,.8L-1,.8Z"]}}}},
{"data":{"name":"cblobs"},"transform":[{"lookup":"p","from":{"data":{"name":"profiles"},"key":"p","fields":["v","a"]}},{"flatten":["v","a"]}],"mark":{"type":"point","filled":true,"opacity":1,"stroke":"black","strokeWidth":0.8,"clip":true},"encoding":{"x":{"field":"x","type":"quantitative","scale":{"domain":[-13,13]}},"y":{"field":"y","type":"quantitative","scale":{"domain":[-12,12.18]}},"fill":{"field":"v","type":"quantitative","legend":null,"scale":{"domain":[0,0.425,0.85,1.275,1.7],"range":["#0000ff","#00ffff","#00ff00","#ffff00","#ff0000"]}},"size":{"field":"a","type":"quantitative","legend":null,"scale":{"type":"pow","exponent":2,"domain":[0,30],"range":[0,3600]}},"shape":{"field":"s","type":"nominal","legend":null,"scale":{"domain":["hex","phex","eye","ne","nw","vhex","box","xob","tri"],"range":["M-1,0L-.5,-.87L.5,-.87L1,0L.5,.87L-.5,.87Z","M0,-1L.87,-.5L.87,.5L0,1L-.87,.5L-.87,-.5Z","M-1,0L-.45,-.5L.45,-.5L1,0L.45,.5L-.45,.5Z","M.35,-1L.6,-.35L.3,.55L-.35,1L-.6,.35L-.3,-.55Z","M-.35,-1L-.6,-.35L-.3,.55L.35,1L.6,.35L.3,-.55Z","M-.72,-.55L0,-1L.72,-.55L.72,.55L0,1L-.72,.55Z","M-1,-.5L.3,-.5L1,0L.3,.5L-1,.5Z","M1,-.5L-.3,-.5L-1,0L-.3,.5L1,.5Z","M0,-1L1,.8L-1,.8Z"]}}}},
{"data":{"name":"carms"},"transform":[{"flatten":["lane"]}],"mark":{"type":"rule","clip":true},"encoding":{"x":{"field":"x","type":"quantitative","scale":{"domain":[-13,13]}},"y":{"field":"y","type":"quantitative","scale":{"domain":[-12,12.18]}},"x2":{"field":"x2"},"y2":{"field":"y2"},"order":{"field":"lane"},"stroke":{"field":"lane","type":"nominal","legend":null,"scale":{"domain":["a_edge","a_two","b_mid","b_two","c_in","c_two","d_warm0","e_warm1","f_warm2","g_core"],"range":["#0f3326","#1d4a28","#2f5a24","#435f1f","#56681a","#6e6a14","#4e6a1c","#7e8a14","#b8a80c","#ff1000"]}},"strokeWidth":{"field":"lane","type":"nominal","legend":null,"scale":{"type":"ordinal","domain":["a_edge","a_two","b_mid","b_two","c_in","c_two","d_warm0","e_warm1","f_warm2","g_core"],"range":[27,24,20,16,11,6,26,26,26,2]}}}},
{"data":{"values":[{"m":"u","x":-13,"y":8.7,"y2":12.18},{"m":"u","x":5,"y":8.7,"y2":12.18},{"m":"u","x":13,"y":-5,"y2":12.18},{"m":"l","x":-13,"y":-12,"y2":5},{"m":"l","x":-5,"y":-12,"y2":-8.7},{"m":"l","x":13,"y":-12,"y2":-8.7}]},"mark":{"type":"area","orient":"vertical","color":"white"},"encoding":{"detail":{"field":"m"},"x":{"field":"x","type":"quantitative","scale":{"domain":[-13,13]}},"y":{"field":"y","type":"quantitative","scale":{"domain":[-12,12.18]}},"y2":{"field":"y2"}}},
{"data":{"values":[{"x":0,"y":0}]},"mark":{"type":"point","filled":true,"opacity":1,"fill":"#15443a","stroke":"#111","strokeWidth":1,"size":676,"shape":"M-1,0L-.5,-.87L.5,-.87L1,0L.5,.87L-.5,.87Z"},"encoding":{"x":{"field":"x","type":"quantitative","scale":{"domain":[-13,13]}},"y":{"field":"y","type":"quantitative","scale":{"domain":[-12,12.18]}}}},
{"data":{"values":[{"x":0,"y":0,"x2":-5.45,"y2":9.3},{"x":0,"y":0,"x2":5.45,"y2":9.35},{"x":0,"y":0,"x2":10.95,"y2":0}]},"mark":{"type":"rule","color":"black","strokeWidth":1},"encoding":{"x":{"field":"x","type":"quantitative","scale":{"domain":[-13,13]}},"y":{"field":"y","type":"quantitative","scale":{"domain":[-12,12.18]}},"x2":{"field":"x2"},"y2":{"field":"y2"}}},
{"data":{"values":[{"x":-5.45,"y":9.3,"r":330},{"x":5.45,"y":9.35,"r":30},{"x":10.95,"y":0,"r":90}]},"mark":{"type":"point","filled":true,"opacity":1,"color":"black","size":100,"shape":"M0,-1L.5,1L-.5,1Z"},"encoding":{"x":{"field":"x","type":"quantitative","scale":{"domain":[-13,13]}},"y":{"field":"y","type":"quantitative","scale":{"domain":[-12,12.18]}},"angle":{"field":"r","type":"quantitative","scale":{"domain":[0,360],"range":[0,360]}}}},
{"data":{"values":[{"t":"[011̄0]","x":-5.67,"y":10.5},{"t":"[112̄0]","x":6.1,"y":10.4},{"t":"[101̄0]","x":11.4,"y":1.1}]},"mark":{"type":"text","fontSize":16},"encoding":{"text":{"field":"t"},"x":{"field":"x","type":"quantitative","scale":{"domain":[-13,13]}},"y":{"field":"y","type":"quantitative","scale":{"domain":[-12,12.18]}}}},
{"data":{"values":[{"t":"(0001)","x":-10.2,"y":-5.9}]},"mark":{"type":"text","fontSize":25},"encoding":{"text":{"field":"t"},"x":{"field":"x","type":"quantitative","scale":{"domain":[-13,13]}},"y":{"field":"y","type":"quantitative","scale":{"domain":[-12,12.18]}}}},
{"data":{"values":[{"t":"c)","x":-18.5,"y":12.05}]},"mark":{"type":"text","fontSize":50,"align":"left","baseline":"alphabetic"},"encoding":{"text":{"field":"t"},"x":{"field":"x","type":"quantitative","scale":{"domain":[-13,13]}},"y":{"field":"y","type":"quantitative","scale":{"domain":[-12,12.18]}}}},
{"data":{"values":[-13,-11,-9,-7,-5,-3,-1,1,3,5,7,9,11,13]},"mark":{"type":"tick","orient":"vertical","size":4,"thickness":1.5,"yOffset":2,"color":"#222"},"encoding":{"x":{"field":"data","type":"quantitative","scale":{"domain":[-13,13]}},"y":{"datum":-12,"type":"quantitative","scale":{"domain":[-12,12.18]}}}},
{"data":{"values":[-11,-9,-7,-5,-3,-1,1,3,5,7,9,11]},"mark":{"type":"tick","orient":"horizontal","size":4,"thickness":1.5,"xOffset":-2,"color":"#222"},"encoding":{"y":{"field":"data","type":"quantitative","scale":{"domain":[-12,12.18]}},"x":{"datum":-13,"type":"quantitative","scale":{"domain":[-13,13]}}}},
{"data":{"values":[{"a":1}]},"mark":{"type":"rect","fillOpacity":0,"stroke":"#222","strokeWidth":1.5},"encoding":{"x":{"datum":-13,"type":"quantitative","scale":{"domain":[-13,13]}},"x2":{"datum":13},"y":{"datum":-12,"type":"quantitative","scale":{"domain":[-12,12.18]}},"y2":{"datum":12}}}
]},
{"width":32,"height":399,"layer":[
{"data":{"name":"cbar"},"mark":{"type":"rect"},"encoding":{"x":{"datum":0,"type":"quantitative","scale":{"domain":[0,1]},"axis":null},"x2":{"datum":1},"y":{"field":"v","type":"quantitative","scale":{"domain":[0,1.7]},"axis":{"title":null,"labelOverlap":false,"tickCount":50,"orient":"right","values":[0,0.1214,0.2429,0.3643,0.4857,0.6071,0.7286,0.85,0.9714,1.0929,1.2143,1.3357,1.4571,1.5786,1.7],"labelExpr":"['0.0','0.1','0.2','0.4','0.5','0.6','0.7','0.9','1.0','1.1','1.2','1.4','1.5','1.6','1.7'][round(datum.value/1.7*14)]","tickSize":6,"labelPadding":2,"labelFontSize":12.5,"tickWidth":1}},"y2":{"field":"h"},"fill":{"field":"v","type":"quantitative","legend":null,"scale":{"domain":[0,0.425,0.85,1.275,1.7],"range":["#0000ff","#00ffff","#00ff00","#ffff00","#ff0000"]}}}},
{"data":{"values":[{"a":1}]},"mark":{"type":"rect","fillOpacity":0,"stroke":"#222","strokeWidth":1},"encoding":{"x":{"datum":0,"type":"quantitative","scale":{"domain":[0,1]},"axis":null},"x2":{"datum":1},"y":{"datum":0,"type":"quantitative","scale":{"domain":[0,1.7]}},"y2":{"datum":1.7}}},
{"data":{"values":[{"t":"d","x":-0.41,"y":1.777},{"t":"/r","x":0.78,"y":1.777}]},"mark":{"type":"text","fontSize":17,"fontStyle":"italic","align":"left","baseline":"alphabetic"},"encoding":{"text":{"field":"t"},"x":{"field":"x","type":"quantitative","scale":{"domain":[0,1]},"axis":null},"y":{"field":"y","type":"quantitative","scale":{"domain":[0,1.7]}}}},
{"data":{"values":[{"t":"1NN","x":-0.06,"y":1.752},{"t":"a","x":1.19,"y":1.752}]},"mark":{"type":"text","fontSize":12,"fontStyle":"italic","align":"left","baseline":"alphabetic"},"encoding":{"text":{"field":"t"},"x":{"field":"x","type":"quantitative","scale":{"domain":[0,1]},"axis":null},"y":{"field":"y","type":"quantitative","scale":{"domain":[0,1.7]}}}}
]}
]}
